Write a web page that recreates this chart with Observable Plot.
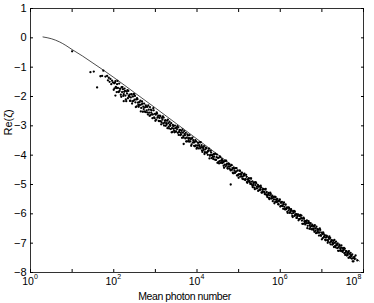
<!DOCTYPE html>
<html><head><meta charset="utf-8">
<script src="https://cdn.jsdelivr.net/npm/d3@7"></script>
<script src="https://cdn.jsdelivr.net/npm/@observablehq/plot@0.6"></script>
<style>body{margin:0;background:#fff;} svg{display:block}</style>
</head><body><div id="chart"></div>
<script>
const xTickExp = [0,1,2,3,4,5,6,7,8];
const xLabelExp = [0,2,4,6,8];
const yTicks = [-8,-7,-6,-5,-4,-3,-2,-1,0,1];
const xTitle = "Mean photon number";
const yTitle = "Re(ζ)";

// theoretical curve (log10 of mean photon number, Re(zeta))
const lineExp = [0.3,0.5,0.7,0.85,1.0,1.25,1.5,1.75,2.0,2.5,3.0,3.5,4.0,4.5,5.0,5.5,6.0,6.5,7.0,7.5,7.9];
const lineVal = [0.03,-0.03,-0.14,-0.26,-0.40,-0.62,-0.86,-1.10,-1.35,-1.87,-2.39,-2.92,-3.45,-3.98,-4.51,-5.04,-5.58,-6.11,-6.65,-7.18,-7.61];

// measured points, first set (log10 of mean photon number, Re(zeta))
const dotExp = [
1.00,1.44,1.52,1.60,1.68,1.72,1.75,1.80,1.84,1.86,1.88,1.90,1.92,1.94,1.96,1.98,2.04,2.24,3.68,4.81,
2.01,2.02,2.04,2.05,2.07,2.08,2.10,2.11,2.13,2.14,2.16,2.17,2.19,2.20,2.22,2.23,2.25,2.26,2.28,2.29,2.31,2.32,2.34,2.35,2.37,2.38,2.40,2.41,2.43,2.44,2.46,2.47,2.49,
2.51,2.52,2.54,2.55,2.57,2.58,2.60,2.61,2.63,2.64,2.66,2.67,2.69,2.70,2.72,2.73,2.75,2.76,2.78,2.79,2.81,2.82,2.84,2.85,2.87,2.88,2.90,2.91,2.93,2.94,2.96,2.97,2.99,
3.01,3.02,3.04,3.05,3.07,3.08,3.10,3.11,3.13,3.14,3.16,3.17,3.19,3.20,3.22,3.23,3.25,3.26,3.28,3.29,3.31,3.32,3.34,3.35,3.37,3.38,3.40,3.41,3.43,3.44,3.46,3.47,3.49,
3.51,3.52,3.54,3.55,3.57,3.58,3.60,3.61,3.63,3.64,3.66,3.67,3.69,3.70,3.72,3.73,3.75,3.76,3.78,3.79,3.81,3.82,3.84,3.85,3.87,3.88,3.90,3.91,3.93,3.94,3.96,3.97,3.99,
4.01,4.02,4.04,4.05,4.07,4.08,4.10,4.11,4.13,4.14,4.16,4.17,4.19,4.20,4.22,4.23,4.25,4.26,4.28,4.29,4.31,4.32,4.34,4.35,4.37,4.38,4.40,4.41,4.43,4.44,4.46,4.47,4.49,
4.51,4.52,4.54,4.55,4.57,4.58,4.60,4.61,4.63,4.64,4.66,4.67,4.69,4.70,4.72,4.73,4.75,4.76,4.78,4.79,4.81,4.82,4.84,4.85,4.87,4.88,4.90,4.91,4.93,4.94,4.96,4.97,4.99,
5.01,5.02,5.04,5.05,5.07,5.08,5.10,5.11,5.13,5.14,5.16,5.17,5.19,5.20,5.22,5.23,5.25,5.26,5.28,5.29,5.31,5.32,5.34,5.35,5.37,5.38,5.40,5.41,5.43,5.44,5.46,5.47,5.49,
5.51,5.52,5.54,5.55,5.57,5.58,5.60,5.61,5.63,5.64,5.66,5.67,5.69,5.70,5.72,5.73,5.75,5.76,5.78,5.79,5.81,5.82,5.84,5.85,5.87,5.88,5.90,5.91,5.93,5.94,5.96,5.97,5.99,
6.01,6.02,6.04,6.05,6.07,6.08,6.10,6.11,6.13,6.14,6.16,6.17,6.19,6.20,6.22,6.23,6.25,6.26,6.28,6.29,6.31,6.32,6.34,6.35,6.37,6.38,6.40,6.41,6.43,6.44,6.46,6.47,6.49,
6.51,6.52,6.54,6.55,6.57,6.58,6.60,6.61,6.63,6.64,6.66,6.67,6.69,6.70,6.72,6.73,6.75,6.76,6.78,6.79,6.81,6.82,6.84,6.85,6.87,6.88,6.90,6.91,6.93,6.94,6.96,6.97,6.99,
7.01,7.02,7.04,7.05,7.07,7.08,7.10,7.11,7.13,7.14,7.16,7.17,7.19,7.20,7.22,7.23,7.25,7.26,7.28,7.29,7.31,7.32,7.34,7.35,7.37,7.38,7.40,7.41,7.43,7.44,7.46,7.47,7.49,
7.51,7.52,7.54,7.55,7.57,7.58,7.60,7.61,7.63,7.64,7.66,7.67,7.69,7.70,7.72,7.73,7.75,7.76,7.78,7.79,7.81,7.85
];
const dotVal = [
-0.46,-1.17,-1.15,-1.69,-1.31,-1.30,-1.12,-1.32,-1.30,-1.45,-1.36,-1.50,-1.40,-1.58,-1.46,-1.52,-1.97,-2.16,-3.62,-5.00,
-1.55,-1.72,-1.48,-1.67,-1.85,-1.58,-1.71,-1.84,-1.56,-1.81,-1.73,-1.94,-1.68,-1.85,-1.75,-1.98,-1.84,-1.73,-1.97,-2.10,-1.83,-1.90,-2.06,-1.81,-2.01,-1.94,-2.14,-2.03,-1.93,-2.24,-2.00,-2.15,-1.93,
-1.98,-2.20,-2.10,-2.34,-2.09,-2.21,-2.35,-2.20,-2.29,-2.14,-2.39,-2.27,-2.24,-2.52,-2.43,-2.24,-2.37,-2.53,-2.35,-2.47,-2.35,-2.61,-2.45,-2.55,-2.36,-2.64,-2.55,-2.47,-2.74,-2.61,-2.47,-2.71,-2.59,
-2.62,-2.79,-2.58,-2.72,-2.65,-2.83,-2.73,-2.65,-2.84,-2.95,-2.73,-2.79,-2.92,-2.72,-2.89,-2.83,-3.00,-2.91,-2.83,-3.08,-2.91,-3.03,-2.86,-2.96,-3.11,-2.91,-3.08,-3.21,-3.01,-3.10,-3.22,-2.99,-3.20,
-3.05,-3.11,-3.24,-3.05,-3.21,-3.15,-3.32,-3.24,-3.17,-3.41,-3.23,-3.35,-3.18,-3.28,-3.43,-3.24,-3.40,-3.53,-3.33,-3.42,-3.54,-3.32,-3.53,-3.46,-3.63,-3.43,-3.57,-3.49,-3.68,-3.56,-3.49,-3.67,-3.78,
-3.67,-3.57,-3.77,-3.66,-3.56,-3.77,-3.73,-3.66,-3.89,-3.73,-3.82,-3.69,-3.90,-3.80,-3.91,-3.76,-3.89,-3.99,-3.85,-3.78,-4.02,-3.99,-3.91,-4.10,-4.00,-4.06,-3.96,-4.05,-4.15,-3.95,-4.16,-4.07,-4.26,
-4.24,-4.09,-4.20,-4.04,-4.26,-4.19,-4.14,-4.27,-4.24,-4.36,-4.21,-4.32,-4.38,-4.19,-4.29,-4.44,-4.38,-4.29,-4.45,-4.38,-4.52,-4.35,-4.50,-4.44,-4.62,-4.43,-4.53,-4.61,-4.44,-4.56,-4.69,-4.53,-4.66,
-4.65,-4.53,-4.73,-4.63,-4.73,-4.60,-4.73,-4.82,-4.70,-4.63,-4.85,-4.82,-4.74,-4.92,-4.83,-4.89,-4.79,-4.88,-4.98,-4.79,-4.99,-4.91,-5.09,-5.02,-4.93,-5.11,-5.02,-4.92,-5.13,-5.07,-5.01,-5.22,-5.08,
-5.19,-5.16,-5.10,-5.27,-5.18,-5.24,-5.16,-5.24,-5.33,-5.16,-5.34,-5.26,-5.43,-5.37,-5.29,-5.46,-5.37,-5.28,-5.47,-5.42,-5.38,-5.57,-5.44,-5.51,-5.41,-5.59,-5.52,-5.60,-5.49,-5.59,-5.68,-5.56,-5.51,
-5.62,-5.73,-5.59,-5.71,-5.83,-5.67,-5.76,-5.84,-5.68,-5.84,-5.80,-5.93,-5.78,-5.88,-5.83,-5.97,-5.90,-5.84,-5.99,-6.07,-5.92,-5.97,-6.07,-5.92,-6.05,-6.01,-6.14,-6.08,-6.03,-6.22,-6.08,-6.18,-6.05,
-6.06,-6.23,-6.16,-6.34,-6.16,-6.25,-6.36,-6.25,-6.32,-6.22,-6.41,-6.32,-6.30,-6.51,-6.45,-6.32,-6.42,-6.53,-6.41,-6.50,-6.42,-6.61,-6.50,-6.58,-6.44,-6.65,-6.59,-6.53,-6.74,-6.64,-6.55,-6.73,-6.64,
-6.69,-6.83,-6.67,-6.79,-6.73,-6.88,-6.81,-6.74,-6.90,-6.99,-6.81,-6.86,-6.98,-6.82,-6.95,-6.91,-7.05,-6.98,-6.92,-7.13,-6.99,-7.09,-6.95,-7.04,-7.17,-7.01,-7.14,-7.26,-7.09,-7.17,-7.27,-7.08,-7.26,
-7.19,-7.24,-7.34,-7.19,-7.32,-7.28,-7.42,-7.36,-7.31,-7.50,-7.36,-7.46,-7.33,-7.41,-7.53,-7.38,-7.51,-7.62,-7.47,-7.54,-7.42,-7.59
];

// measured points, second set
const dotExpB = [
2.00,2.03,2.06,2.09,2.12,2.15,2.18,2.21,2.24,2.27,2.30,2.33,2.36,2.39,2.42,2.45,2.48,
2.50,2.53,2.56,2.59,2.62,2.65,2.68,2.71,2.74,2.77,2.80,2.83,2.86,2.89,2.92,2.95,2.98,
3.00,3.03,3.06,3.09,3.12,3.15,3.18,3.21,3.24,3.27,3.30,3.33,3.36,3.39,3.42,3.45,3.48,
3.50,3.53,3.56,3.59,3.62,3.65,3.68,3.71,3.74,3.77,3.80,3.83,3.86,3.89,3.92,3.95,3.98,
4.00,4.03,4.06,4.09,4.12,4.15,4.18,4.21,4.24,4.27,4.30,4.33,4.36,4.39,4.42,4.45,4.48,
4.50,4.53,4.56,4.59,4.62,4.65,4.68,4.71,4.74,4.77,4.80,4.83,4.86,4.89,4.92,4.95,4.98,
5.00,5.03,5.06,5.09,5.12,5.15,5.18,5.21,5.24,5.27,5.30,5.33,5.36,5.39,5.42,5.45,5.48,
5.50,5.53,5.56,5.59,5.62,5.65,5.68,5.71,5.74,5.77,5.80,5.83,5.86,5.89,5.92,5.95,5.98,
6.00,6.03,6.06,6.09,6.12,6.15,6.18,6.21,6.24,6.27,6.30,6.33,6.36,6.39,6.42,6.45,6.48,
6.50,6.53,6.56,6.59,6.62,6.65,6.68,6.71,6.74,6.77,6.80,6.83,6.86,6.89,6.92,6.95,6.98,
7.00,7.03,7.06,7.09,7.12,7.15,7.18,7.21,7.24,7.27,7.30,7.33,7.36,7.39,7.42,7.45,7.48,
7.50,7.53,7.56,7.59,7.62,7.65,7.68,7.71,7.74
];
const dotValB = [
-1.77,-1.53,-1.71,-1.47,-1.85,-1.74,-2.01,-1.68,-1.92,-1.81,-2.16,-1.78,-1.98,-2.15,-1.92,-2.17,-1.91,
-2.11,-2.36,-2.06,-2.29,-2.19,-2.51,-2.17,-2.35,-2.51,-2.30,-2.54,-2.30,-2.66,-2.45,-2.61,-2.40,-2.74,
-2.83,-2.54,-2.70,-2.84,-2.67,-2.88,-2.68,-2.99,-2.81,-2.96,-2.79,-3.09,-3.00,-3.22,-2.97,-3.17,-3.08,
-3.19,-3.01,-3.31,-3.14,-3.29,-3.12,-3.40,-3.32,-3.53,-3.29,-3.49,-3.42,-3.68,-3.40,-3.56,-3.70,-3.53,
-3.74,-3.58,-3.71,-3.56,-3.84,-3.76,-3.96,-3.74,-3.92,-3.85,-4.11,-3.85,-4.00,-4.13,-3.97,-4.16,-3.98,
-4.09,-4.28,-4.07,-4.25,-4.19,-4.43,-4.19,-4.33,-4.46,-4.31,-4.49,-4.33,-4.60,-4.46,-4.58,-4.44,-4.69,
-4.77,-4.53,-4.67,-4.80,-4.66,-4.83,-4.67,-4.94,-4.80,-4.92,-4.79,-5.04,-4.97,-5.16,-4.95,-5.13,-5.06,
-5.18,-5.04,-5.28,-5.15,-5.28,-5.15,-5.38,-5.33,-5.50,-5.32,-5.48,-5.43,-5.64,-5.43,-5.56,-5.67,-5.55,
-5.75,-5.62,-5.74,-5.61,-5.85,-5.80,-5.97,-5.79,-5.94,-5.89,-6.11,-5.90,-6.03,-6.14,-6.02,-6.18,-6.04,
-6.15,-6.34,-6.13,-6.31,-6.25,-6.49,-6.25,-6.39,-6.52,-6.37,-6.55,-6.39,-6.66,-6.52,-6.64,-6.50,-6.75,
-6.87,-6.63,-6.77,-6.90,-6.76,-6.93,-6.77,-7.04,-6.90,-7.02,-6.89,-7.14,-7.07,-7.26,-7.05,-7.23,-7.16,
-7.30,-7.16,-7.40,-7.27,-7.40,-7.27,-7.50,-7.45,-7.62
];

const curve = lineExp.map((e, i) => ({n: 10 ** e, v: lineVal[i]}));
const pts = dotExp.map((e, i) => ({n: 10 ** e, v: dotVal[i]}))
  .concat(dotExpB.map((e, i) => ({n: 10 ** e, v: dotValB[i]})));
const xTicks = xTickExp.map(e => 10 ** e);
const fmtY = d => d < 0 ? "\u2212" + (-d) : String(d);
const mainLabels = xLabelExp.slice(0, -1);
const lastLabel = xLabelExp.slice(-1);

const chart = Plot.plot({
  width: 374, height: 303,
  marginLeft: 30, marginRight: 11, marginTop: 8, marginBottom: 31,
  style: {fontFamily: "'Liberation Sans', Arial, sans-serif", fontSize: "11px", background: "#fff", color: "#000"},
  x: {type: "log", domain: [1, 1e8]},
  y: {domain: [-8, 1]},
  marks: [
    Plot.line(curve, {x: "n", y: "v", stroke: "#000", strokeWidth: 0.7, curve: "monotone-x"}),
    Plot.dot(pts, {x: "n", y: "v", r: 1.15, fill: "#000"}),
    Plot.frame({stroke: "#000", strokeWidth: 0.8}),
    Plot.axisX(xTicks, {anchor: "bottom", tickSize: -3, tickFormat: () => "", label: null}),
    Plot.axisX(xTicks, {anchor: "top", tickSize: -3, tickFormat: () => "", label: null}),
    Plot.axisY(yTicks, {anchor: "left", tickSize: -3, tickFormat: () => "", label: null}),
    Plot.axisY(yTicks, {anchor: "right", tickSize: -3, tickFormat: () => "", label: null}),
    Plot.axisY(yTicks, {anchor: "left", tickSize: 0, tickPadding: 4, tickFormat: fmtY, label: null, fontSize: 11}),
    Plot.text(mainLabels, {x: e => 10 ** e, frameAnchor: "bottom", lineAnchor: "middle", dy: 9, dx: -2.5, text: () => "10", fontSize: 10.5}),
    Plot.text(mainLabels, {x: e => 10 ** e, frameAnchor: "bottom", lineAnchor: "middle", dy: 4, dx: 3.5, textAnchor: "start", text: e => String(e), fontSize: 7}),
    Plot.text(lastLabel, {x: e => 10 ** e, frameAnchor: "bottom", lineAnchor: "middle", dy: 9, dx: -12, text: () => "10", fontSize: 10.5}),
    Plot.text(lastLabel, {x: e => 10 ** e, frameAnchor: "bottom", lineAnchor: "middle", dy: 4, dx: -6, textAnchor: "start", text: e => String(e), fontSize: 7}),
    Plot.text([xTitle], {frameAnchor: "bottom", lineAnchor: "middle", dy: 24, dx: -12.5, text: d => d, fontSize: 10.5}),
    Plot.text([yTitle], {frameAnchor: "left", dx: -22, dy: -5, rotate: -90, text: d => d, fontSize: 11})
  ]
});
d3.select(chart).selectAll("text").filter(function() { return this.textContent === xTitle; }).attr("letter-spacing", "-0.4");
document.getElementById("chart").appendChild(chart);
</script>
</body></html>
